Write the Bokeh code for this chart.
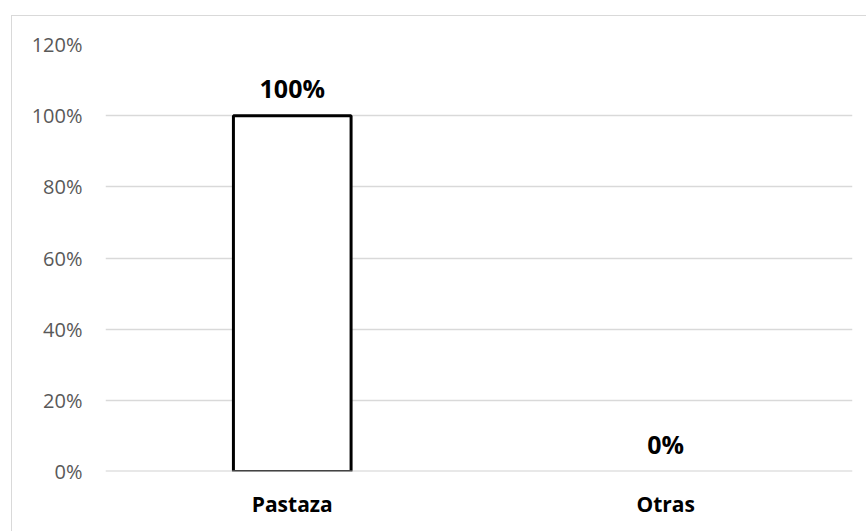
from bokeh.plotting import figure
from bokeh.models import ColumnDataSource, FactorRange, LabelSet, Span, NumeralTickFormatter, FixedTicker
from bokeh.core.properties import value
from bokeh.embed import file_html
from bokeh.resources import INLINE

# Share of respondents by province
categories = ["Pastaza", "Otras"]
shares = [1.00, 0.00]
y_ticks = [0.0, 0.2, 0.4, 0.6, 0.8, 1.0, 1.2]

FONT = "Open Sans"

source = ColumnDataSource(data=dict(
    cat=categories,
    share=shares,
    label=[f"{v:.0%}" for v in shares],
    # a zero-height bar leaves no visible outline
    edge=["black" if v > 0 else None for v in shares],
))

p = figure(
    x_range=FactorRange(*categories, range_padding=0),
    y_range=(0, 1.2),
    width=855, height=516,
    output_backend="svg", toolbar_location=None,
    min_border_left=93, min_border_right=15,
    min_border_top=28, min_border_bottom=61,
)
p.styles = {
    "margin-left": "11px",
    "margin-top": "15px",
    "border-left": "1px solid #d9d9d9",
    "border-top": "1px solid #d9d9d9",
}
p.outline_line_color = None
p.background_fill_color = "white"
p.border_fill_color = "white"

p.vbar(x="cat", top="share", width=0.315, source=source,
       fill_color="white", line_color="edge", line_width=3)

# zero gridline drawn over the bar's bottom edge
p.add_layout(Span(location=0, dimension="width", line_color="#bfbfbf",
                  line_alpha=0.7, line_width=2, level="overlay"))

labels = LabelSet(x="cat", y="share", text="label", source=source,
                  text_align="center", text_baseline="middle", y_offset=28,
                  text_font=value(FONT), text_font_style="bold",
                  text_font_size="25px", text_color="black")
p.add_layout(labels)

# grid
p.xgrid.grid_line_color = None
p.ygrid.grid_line_color = "#d9d9d9"
p.ygrid.grid_line_width = 1.5
p.ygrid.ticker = FixedTicker(ticks=y_ticks)

# y axis
p.yaxis.ticker = FixedTicker(ticks=y_ticks)
p.yaxis.formatter = NumeralTickFormatter(format="0%")
p.yaxis.axis_line_color = None
p.yaxis.major_tick_line_color = None
p.yaxis.minor_tick_line_color = None
p.yaxis.major_tick_out = 0
p.yaxis.major_label_standoff = 23
p.yaxis.major_label_text_font = FONT
p.yaxis.major_label_text_font_size = "20px"
p.yaxis.major_label_text_color = "#595959"

# x axis
p.xaxis.axis_line_color = None
p.xaxis.major_tick_line_color = None
p.xaxis.minor_tick_line_color = None
p.xaxis.major_tick_out = 0
p.xaxis.major_label_standoff = 18
p.xaxis.major_label_text_font = FONT
p.xaxis.major_label_text_font_style = "bold"
p.xaxis.major_label_text_font_size = "21px"
p.xaxis.major_label_text_color = "black"

open("out.html", "w").write(file_html(p, INLINE))
